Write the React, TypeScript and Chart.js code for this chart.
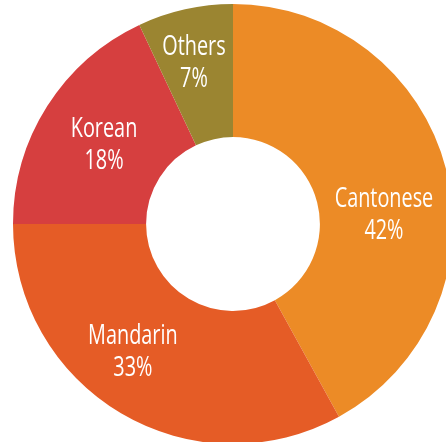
import React, { useEffect, useRef } from "react";
import { Chart, registerables } from "chart.js";

Chart.register(...registerables);

const languages = ["Cantonese", "Mandarin", "Korean", "Others"];
const shares = [42, 33, 18, 7];
const sliceColors = ["#EC8B26", "#E55C26", "#D63F3F", "#9B8531"];

// label placement (style): angular shift in degrees and radius fraction of the outer radius
const labelAngleShift = [10.2, 7.8, -0.3, -0.9];
const labelRadiusFrac = [0.688, 0.733, 0.692, 0.76];

const labelPlugin = {
  id: "sliceLabels",
  afterDatasetsDraw(chart: any) {
    const ctx = chart.ctx;
    const meta = chart.getDatasetMeta(0);
    const data = chart.data.datasets[0].data;
    const labels = chart.data.labels;
    meta.data.forEach((arc: any, i: number) => {
      const p = arc.getProps(["x", "y", "startAngle", "endAngle", "outerRadius"], true);
      const mid = (p.startAngle + p.endAngle) / 2 + (labelAngleShift[i] * Math.PI) / 180;
      const r = p.outerRadius * labelRadiusFrac[i];
      const cx = p.x + Math.cos(mid) * r;
      const cy = p.y + Math.sin(mid) * r;
      const lines = [String(labels[i]), data[i] + "%"];
      ctx.save();
      ctx.fillStyle = "#ffffff";
      ctx.font = "27px 'Open Sans'";
      ctx.textAlign = "center";
      ctx.textBaseline = "alphabetic";
      const offs = [-6, 26];
      lines.forEach((t, j) => {
        ctx.save();
        ctx.translate(cx, cy + offs[j]);
        ctx.scale(0.735, 1);
        ctx.fillText(t, 0, 0);
        ctx.restore();
      });
      ctx.restore();
    });
  },
};

export default function App() {
  const ref = useRef<HTMLCanvasElement | null>(null);
  useEffect(() => {
    document.body.style.overflow = "hidden";
    const chart = new Chart(ref.current as HTMLCanvasElement, {
      type: "doughnut",
      data: {
        labels: languages,
        datasets: [
          {
            data: shares,
            backgroundColor: sliceColors,
            borderWidth: 0,
          },
        ],
      },
      options: {
        animation: false,
        responsive: false,
        cutout: "39.5%",
        layout: { padding: 0 },
        plugins: {
          legend: { display: false },
          tooltip: { enabled: false },
        },
      },
      plugins: [labelPlugin],
    });
    return () => chart.destroy();
  }, []);
  return (
    <div style={{ position: "fixed", left: 0, top: 0, width: 446, height: 442, overflow: "hidden", background: "#fff" }}>
      <canvas
        ref={ref}
        width={440}
        height={440}
        style={{ position: "absolute", left: 13, top: 4, width: 440, height: 440 }}
      />
    </div>
  );
}
